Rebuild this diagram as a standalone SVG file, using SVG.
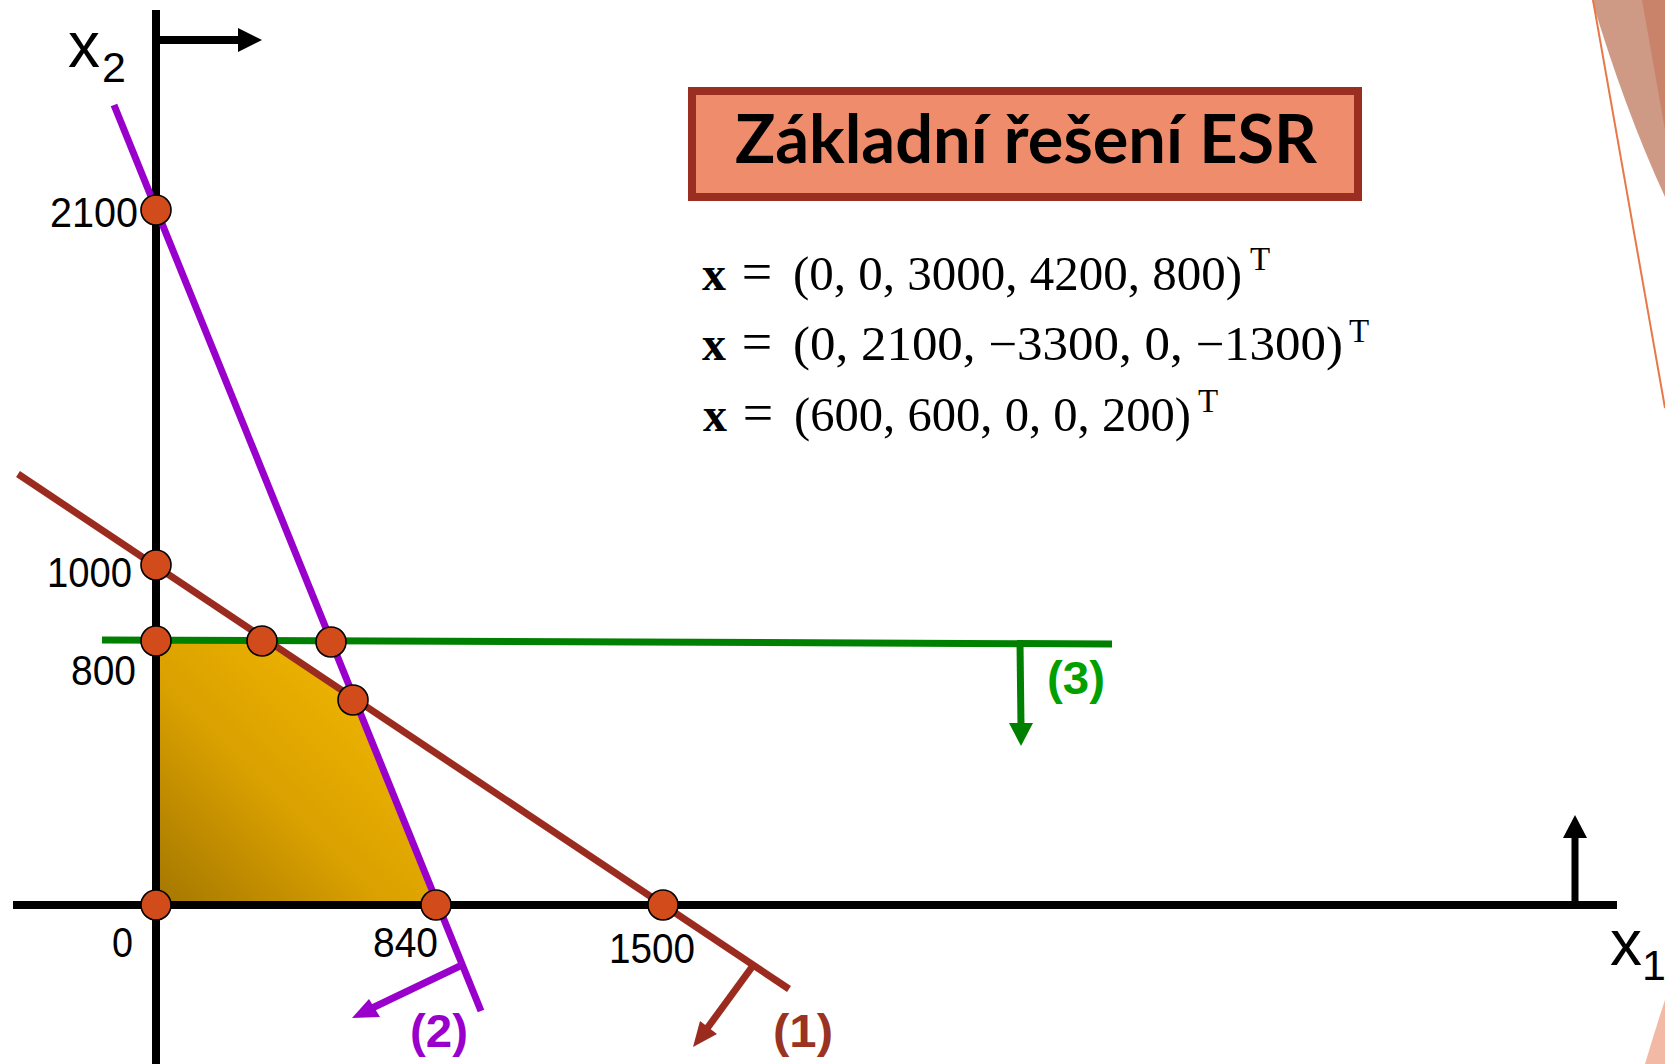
<svg xmlns="http://www.w3.org/2000/svg" width="1665" height="1064" viewBox="0 0 1665 1064">
<style>
.axis{stroke:#000;stroke-width:8;fill:none}
.num{font-family:"Liberation Sans",Arial,sans-serif;font-size:43px;fill:#000}
.lab{font-family:"Liberation Sans",Arial,sans-serif;font-weight:bold;font-size:46px}
.pt{fill:#D24B1A;stroke:#000;stroke-width:1.6}
.math{font-family:"Liberation Serif","Times New Roman",serif;font-size:48px;fill:#000}
.eq{font-family:"Liberation Serif","Times New Roman",serif;font-size:54px;fill:#000}
.sup{font-family:"Liberation Serif","Times New Roman",serif;font-size:33px;fill:#000}
</style>
<defs>
<linearGradient id="gold" x1="156" y1="905" x2="380" y2="680" gradientUnits="userSpaceOnUse">
<stop offset="0" stop-color="#A37600"/>
<stop offset="0.5" stop-color="#D9A000"/>
<stop offset="1" stop-color="#F0B600"/>
</linearGradient>
</defs>
<rect width="1665" height="1064" fill="#fff"/>
<g id="decor">
<path d="M1592,0 Q1625,110 1665,197 L1665,0 Z" fill="#CF9A85"/>
<path d="M1642,0 L1665,130 L1665,0 Z" fill="#C8836A"/>
<line x1="1593" y1="0" x2="1665" y2="408" stroke="#E8784A" stroke-width="2"/>
<path d="M1645,1064 Q1655,1030 1665,1000 L1665,1064 Z" fill="#F2B9A4"/>
</g>
<g id="feasible-region">
<polygon points="156,641 262,641 353,700 436,905 156,905" fill="url(#gold)"/>
</g>
<g id="connectors">
<line x1="156" y1="10" x2="156" y2="1064" class="axis"/>
<line x1="13" y1="905" x2="1617" y2="905" class="axis"/>
<line x1="156" y1="40" x2="242" y2="40" class="axis"/>
<polygon points="238,28 262,40 238,52" fill="#000"/>
<line x1="1575" y1="905" x2="1575" y2="834" stroke="#000" stroke-width="7"/>
<polygon points="1563,838 1575,815 1587,838" fill="#000"/>
<line x1="114" y1="105" x2="481" y2="1011" stroke="#9900CC" stroke-width="7"/>
<line x1="460" y1="966" x2="368" y2="1010" stroke="#9900CC" stroke-width="7"/>
<polygon points="352,1018 369,999 380,1017" fill="#9900CC"/>
<line x1="18" y1="474" x2="789" y2="989" stroke="#9A2B1E" stroke-width="7"/>
<line x1="752" y1="967" x2="703" y2="1034" stroke="#9A2B1E" stroke-width="7"/>
<polygon points="693,1047 700,1021 717,1034" fill="#9A2B1E"/>
<line x1="102" y1="640" x2="1112" y2="644" stroke="#008000" stroke-width="7"/>
<line x1="1020" y1="643" x2="1021" y2="726" stroke="#008000" stroke-width="7"/>
<polygon points="1009,723 1021,746 1033,723" fill="#008000"/>
</g>
<g id="points">
<circle cx="156" cy="210" r="15" class="pt"/>
<circle cx="156" cy="565" r="15" class="pt"/>
<circle cx="156" cy="641" r="15" class="pt"/>
<circle cx="156" cy="905" r="15" class="pt"/>
<circle cx="262" cy="641" r="15" class="pt"/>
<circle cx="331" cy="642" r="15" class="pt"/>
<circle cx="353" cy="700" r="15" class="pt"/>
<circle cx="436" cy="905" r="15" class="pt"/>
<circle cx="663" cy="905" r="15" class="pt"/>
</g>
<g id="axis-labels">
<text x="68" y="67" style="font-family:'Liberation Sans',Arial,sans-serif;font-size:64px">x</text>
<text x="102" y="82" style="font-family:'Liberation Sans',Arial,sans-serif;font-size:43px">2</text>
<text x="1610" y="965" style="font-family:'Liberation Sans',Arial,sans-serif;font-size:64px">x</text>
<text x="1642" y="980" style="font-family:'Liberation Sans',Arial,sans-serif;font-size:43px">1</text>
<text x="50" y="227" class="num" textLength="88" lengthAdjust="spacingAndGlyphs">2100</text>
<text x="47" y="587" class="num" textLength="85" lengthAdjust="spacingAndGlyphs">1000</text>
<text x="71" y="685" class="num" textLength="65" lengthAdjust="spacingAndGlyphs">800</text>
<text x="112" y="957" class="num" textLength="21" lengthAdjust="spacingAndGlyphs">0</text>
<text x="373" y="957" class="num" textLength="65" lengthAdjust="spacingAndGlyphs">840</text>
<text x="609" y="963" class="num" textLength="86" lengthAdjust="spacingAndGlyphs">1500</text>
</g>
<g id="constraint-labels">
<text x="1047" y="694" class="lab" fill="#00A000" textLength="58" lengthAdjust="spacingAndGlyphs">(3)</text>
<text x="410" y="1047" class="lab" fill="#9900CC" textLength="58" lengthAdjust="spacingAndGlyphs">(2)</text>
<text x="773" y="1047" class="lab" fill="#993322" textLength="60" lengthAdjust="spacingAndGlyphs">(1)</text>
</g>
<g id="title">
<rect x="692" y="91" width="666" height="106" fill="#EF8C6C" stroke="#9A2E20" stroke-width="8"/>
<text x="735" y="163" style="font-family:Lato,'Open Sans',sans-serif;font-weight:bold;font-size:67px" fill="#000" textLength="582" lengthAdjust="spacingAndGlyphs">Základní řešení ESR</text>
</g>
<g id="solutions">
<text x="702" y="290" class="math" font-weight="bold">x</text>
<text x="757" y="290" class="eq" text-anchor="middle">=</text>
<text x="793" y="290" class="math" textLength="449" lengthAdjust="spacingAndGlyphs">(0, 0, 3000, 4200, 800)</text>
<text x="1250" y="270" class="sup">T</text>
<text x="702" y="360" class="math" font-weight="bold">x</text>
<text x="757" y="360" class="eq" text-anchor="middle">=</text>
<text x="793" y="360" class="math" textLength="550" lengthAdjust="spacingAndGlyphs">(0, 2100, −3300, 0, −1300)</text>
<text x="1349" y="342" class="sup">T</text>
<text x="703" y="431" class="math" font-weight="bold">x</text>
<text x="758" y="431" class="eq" text-anchor="middle">=</text>
<text x="794" y="431" class="math" textLength="397" lengthAdjust="spacingAndGlyphs">(600, 600, 0, 0, 200)</text>
<text x="1198" y="412" class="sup">T</text>
</g>
</svg>
